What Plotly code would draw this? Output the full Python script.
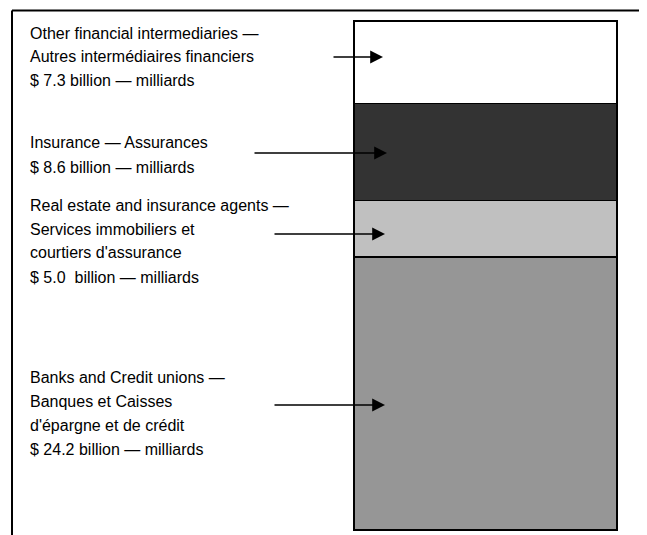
import plotly.graph_objects as go

# segments, bottom to top
segments = ["Banks and Credit unions", "Real estate and insurance agents",
            "Insurance", "Other financial intermediaries"]
values = [24.2, 5.0, 8.6, 7.3]
colors = ["#969696", "#c0c0c0", "#333333", "#ffffff"]

# label text, one list per segment (top block first)
labels = [
    ["Other financial intermediaries \u2014",
     "Autres intermédiaires financiers",
     "$ 7.3 billion \u2014 milliards"],
    ["Insurance \u2014 Assurances",
     "$ 8.6 billion \u2014 milliards"],
    ["Real estate and insurance agents \u2014",
     "Services immobiliers et",
     "courtiers d'assurance",
     "$ 5.0  billion \u2014 milliards"],
    ["Banks and Credit unions \u2014",
     "Banques et Caisses",
     "d'épargne et de crédit",
     "$ 24.2 billion \u2014 milliards"],
]

W, H = 647, 535
OFF = 8  # page body margin
total = sum(values)

# bar pixel box (page coords)
bx0, bx1, by_top, by_bot = 354, 617, 21, 530


def px(x):
    return (x - OFF) / W


def py(y):
    return 1 - (y - OFF) / H


pad = 0.1
ppu_x = bx1 - bx0
ppu_y = (by_bot - by_top) / total
ypad = 0.3
xd0 = px(bx0 - pad * ppu_x)
xd1 = px(bx1 + pad * ppu_x)
yd0 = py(by_bot + ypad * ppu_y)
yd1 = py(by_top - ypad * ppu_y)

fig = go.Figure()
for name, v, c in zip(segments, values, colors):
    fig.add_trace(go.Bar(x=[0], y=[v], name=name, width=1,
                         marker=dict(color=c, line=dict(color="black", width=1.5)),
                         showlegend=False, hoverinfo="name+y"))

annotations = []
block_top = [33, 143, 205, 377]
for lines, y0 in zip(labels, block_top):
    for i, t in enumerate(lines):
        annotations.append(dict(x=px(28), y=py(y0 + i * 24), xref="paper", yref="paper",
                                text=t, showarrow=False, xanchor="left", yanchor="middle",
                                font=dict(family="Liberation Sans, Arial", size=16, color="black")))

# arrows: (tail x, tip x, y)
arrows = [(332, 383, 57), (253, 387, 153), (273, 385, 234), (273, 385, 405)]
for tx, hx, y in arrows:
    annotations.append(dict(x=px(hx), y=py(y), xref="paper", yref="paper",
                            ax=tx - hx, ay=0, axref="pixel", ayref="pixel",
                            text="", showarrow=True, arrowhead=2, arrowsize=1.6,
                            arrowwidth=1.6, arrowcolor="black", standoff=0))

# frame
shapes = [
    dict(type="line", xref="paper", yref="paper", x0=px(12), x1=1, y0=py(10.5), y1=py(10.5),
         line=dict(color="black", width=2)),
    dict(type="line", xref="paper", yref="paper", x0=px(12), x1=px(12), y0=py(10.5), y1=0,
         line=dict(color="black", width=2)),
]

fig.update_layout(
    width=W, height=H, barmode="stack",
    margin=dict(l=0, r=0, t=0, b=0),
    paper_bgcolor="white", plot_bgcolor="white",
    xaxis=dict(domain=[xd0, xd1], range=[-0.5 - pad, 0.5 + pad], visible=False),
    yaxis=dict(domain=[yd0, yd1], range=[-ypad, total + ypad], visible=False),
    annotations=annotations, shapes=shapes,
)

fig.write_html("out.html")
